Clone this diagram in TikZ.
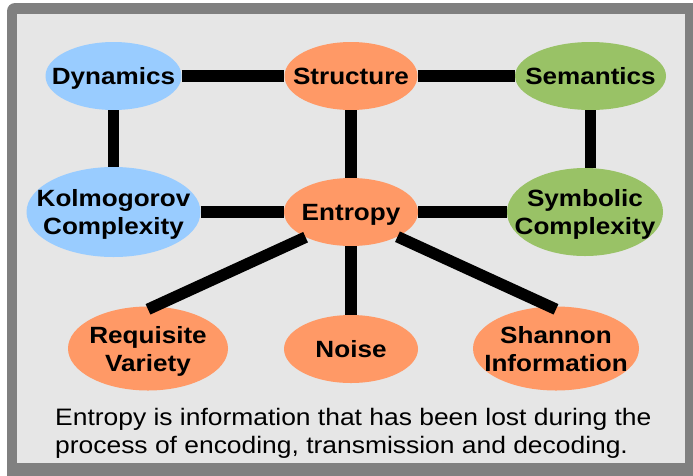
\documentclass[tikz,border=0pt]{standalone}
\usepackage{fontspec}
\setmainfont[FakeStretch=1.11]{Liberation Sans}
\usetikzlibrary{shapes.geometric}
\definecolor{frame}{HTML}{808080}
\definecolor{panel}{HTML}{E6E6E6}
\definecolor{cblue}{HTML}{99CCFF}
\definecolor{corange}{HTML}{FF9966}
\definecolor{cgreen}{HTML}{99C266}
\tikzset{
  bub/.style={ellipse, inner xsep=-200pt, inner ysep=-200pt, align=center,
    text depth=0pt, font=\fontsize{23.5}{28}\selectfont\bfseries},
  blue/.style={bub, fill=cblue},
  orng/.style={bub, fill=corange},
  grn/.style={bub, fill=cgreen},
  link/.style={line width=11.5pt, line cap=butt},
}
\begin{document}
\begin{tikzpicture}[x=1pt,y=-1pt]
\useasboundingbox (0,0) rectangle (693,475);
\begin{scope}
\clip (0,0) rectangle (693,475);
\fill[frame, rounded corners=8pt] (7,3) rectangle (710,490);
\fill[panel] (17,14) rectangle (685,463);
\end{scope}
\node[blue, minimum width=136pt, minimum height=68pt] (dyn) at (113.5,76) {Dynamics};
\node[orng, minimum width=133pt, minimum height=68pt] (str) at (351,76) {Structure};
\node[grn, minimum width=151pt, minimum height=68pt] (sem) at (590.5,76) {Semantics};
\node[blue, minimum width=174pt, minimum height=90pt] (kol) at (113.5,212) {Kolmogorov\\Complexity};
\node[orng, minimum width=134pt, minimum height=68pt] (ent) at (351,212) {Entropy};
\node[grn, minimum width=156pt, minimum height=88pt] (sym) at (585,212) {Symbolic\\Complexity};
\node[orng, minimum width=160pt, minimum height=84pt] (req) at (148,348.5) {Requisite\\Variety};
\node[orng, minimum width=134pt, minimum height=68pt] (noi) at (351,349) {Noise};
\node[orng, minimum width=166pt, minimum height=84pt] (sha) at (556,348.5) {Shannon\\Information};
\draw[link] (dyn.east) -- (str.west);
\draw[link] (str.east) -- (sem.west);
\draw[link] (dyn.south) -- (kol.north);
\draw[link] (str.south) -- (ent.north);
\draw[link] (sem.south) -- (sem.south |- sym.north);
\draw[link] (kol.east) -- (ent.west);
\draw[link] (ent.east) -- (sym.west);
\draw[link] (ent.south) -- (noi.north);
\draw[link] (ent.-151.5) -- ([yshift=-3pt]req.north);
\draw[link] (ent.-28) -- ([yshift=-3pt]sha.north);
\node[anchor=base west, align=left, inner sep=0pt,
  font=\fontsize{23.8}{28}\selectfont] (cap) at (55,453)
  {Entropy is information that has been lost during the\\process of encoding, transmission and decoding.};
\end{tikzpicture}
\end{document}
